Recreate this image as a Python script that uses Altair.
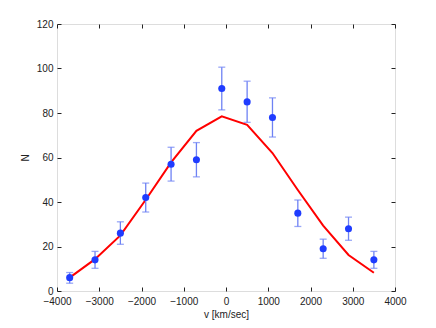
import altair as alt
import pandas as pd

# velocity bins (km/sec)
v = [-3700, -3100, -2500, -1900, -1300, -700, -100, 500, 1100, 1700, 2300, 2900, 3500]
# observed counts
n = [6, 14, 26, 42, 57, 59, 91, 85, 78, 35, 19, 28, 14]
# error bar lower / upper ends
err_lo = [3.5, 10.2, 21.0, 35.5, 49.4, 51.3, 81.4, 75.8, 69.2, 29.0, 14.7, 22.8, 10.2]
err_hi = [8.3, 17.8, 31.1, 48.5, 64.6, 66.7, 100.6, 94.3, 86.8, 40.9, 23.3, 33.2, 17.8]
# model curve
model = [6, 14.3, 25, 41, 57.8, 72, 78.5, 74.7, 62, 45.4, 29.4, 16.2, 8.2]

x_ticks = [-4000, -3000, -2000, -1000, 0, 1000, 2000, 3000, 4000]
y_ticks = [0, 20, 40, 60, 80, 100, 120]

df = pd.DataFrame({"v": v, "n": n, "lo": err_lo, "hi": err_hi, "model": model})

FONT = "Liberation Sans"
xscale = alt.Scale(domain=[-4000, 4000], nice=False, zero=False)
yscale = alt.Scale(domain=[0, 120], nice=False)

common_axis = dict(
    grid=False, domain=False, tickSize=4, offset=-4, tickColor="#222",
    labelFont=FONT, labelFontSize=10, labelColor="#222",
    titleFont=FONT, titleFontSize=10, titleFontWeight="normal", titleColor="#222",
)

x_axis = alt.Axis(values=x_ticks, title="v [km/sec]", labelPadding=5, titlePadding=3,
                  orient="bottom", labelFlush=False, format="d", **common_axis)
y_axis = alt.Axis(values=y_ticks, title="N", labelPadding=4, titlePadding=6,
                  orient="left", format="d", **common_axis)

x_top = alt.Axis(values=x_ticks, labels=False, title=None, orient="top", grid=False,
                 domain=False, tickSize=4, offset=-4, tickColor="#222")
y_right = alt.Axis(values=y_ticks, labels=False, title=None, orient="right", grid=False,
                   domain=False, tickSize=4, offset=-4, tickColor="#222")

base = alt.Chart(df)

line = base.mark_line(color="#ff0000", strokeWidth=2).encode(
    x=alt.X("v:Q", scale=xscale, axis=x_axis),
    y=alt.Y("model:Q", scale=yscale, axis=y_axis),
)

frame = base.mark_point(opacity=0).encode(
    x=alt.X("v:Q", scale=xscale, axis=x_top),
    y=alt.Y("model:Q", scale=yscale, axis=y_right),
)

ebar_color = "#6e82f4"
rules = base.mark_rule(color=ebar_color, strokeWidth=1.3).encode(
    x=alt.X("v:Q", scale=xscale, axis=None),
    y=alt.Y("lo:Q", scale=yscale, axis=None),
    y2="hi:Q",
)
cap_lo = base.mark_tick(color=ebar_color, orient="horizontal", size=7, thickness=1.3).encode(
    x=alt.X("v:Q", scale=xscale, axis=None),
    y=alt.Y("lo:Q", scale=yscale, axis=None),
)
cap_hi = base.mark_tick(color=ebar_color, orient="horizontal", size=7, thickness=1.3).encode(
    x=alt.X("v:Q", scale=xscale, axis=None),
    y=alt.Y("hi:Q", scale=yscale, axis=None),
)
points = base.mark_circle(color="#1f3cff", size=50, opacity=1).encode(
    x=alt.X("v:Q", scale=xscale, axis=None),
    y=alt.Y("n:Q", scale=yscale, axis=None),
)

chart = alt.layer(line, frame, rules, cap_lo, cap_hi, points).resolve_axis(
    x="independent", y="independent"
).properties(
    width=338, height=267,
    autosize=alt.AutoSizeParams(type="none"),
    padding={"left": 49, "top": 16, "right": 30, "bottom": 30},
).configure_view(stroke="#222", strokeWidth=1).configure(background="white")

chart.save("out.html", embed_options={"renderer": "svg", "actions": False})
